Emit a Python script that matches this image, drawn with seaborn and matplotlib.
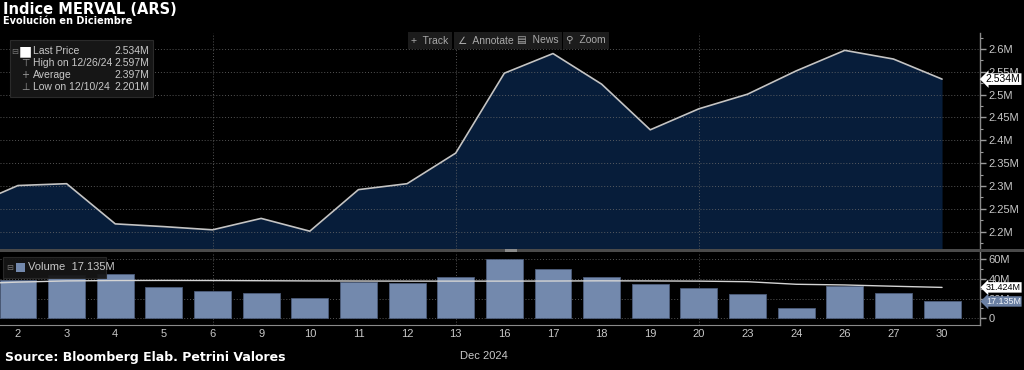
import numpy as np
import pandas as pd
import matplotlib
matplotlib.use('Agg')
import matplotlib.pyplot as plt
import matplotlib.transforms as mtrans
from matplotlib.patches import Rectangle
from matplotlib.ticker import FixedLocator, MultipleLocator, FuncFormatter
import seaborn as sns

# ---------------- data ----------------
days = ['29', '2', '3', '4', '5', '6', '9', '10', '11', '12', '13',
        '16', '17', '18', '19', '20', '23', '24', '26', '27', '30']
price = [2.255, 2.301, 2.305, 2.217, 2.211, 2.204, 2.229, 2.201, 2.292, 2.305, 2.372,
         2.547, 2.590, 2.523, 2.423, 2.469, 2.501, 2.552, 2.597, 2.578, 2.534]   # millions
volume = [38.0, 38.5, 44.0, 45.0, 32.1, 27.8, 26.0, 20.6, 36.6, 35.6, 42.3,
          60.3, 50.4, 42.0, 34.6, 30.5, 24.7, 10.2, 32.5, 25.4, 17.135]        # millions
vol_avg = [35.0, 36.8, 38.0, 38.4, 38.5, 38.4, 38.2, 38.0, 37.9, 37.8, 37.8,
           37.8, 37.9, 38.1, 38.0, 37.8, 37.2, 34.6, 33.9, 32.6, 31.424]
grid_days = ['6', '13', '20']
legend_names = ['Last Price', 'High on 12/26/24', 'Average', 'Low on 12/10/24']
legend_values = ['2.534M', '2.597M', '2.397M', '2.201M']

df = pd.DataFrame({'day': days, 'price': price, 'volume': volume, 'vol_avg': vol_avg})
df['pos'] = np.arange(len(df))

# ---------------- style ----------------
sns.set_style('dark')
plt.rcParams['font.family'] = ['DejaVu Sans']
NARROW = ['Liberation Sans', 'DejaVu Sans']
BG = 'black'
NAVY = '#071d3a'
TXT = '#c8c8c8'
GRID = '#6a6a6a'
BAR = '#7389ad'

W, H = 1024, 370
fx = lambda px: px / W
fy = lambda py: 1 - py / H

fig = plt.figure(figsize=(10.24, 3.70), dpi=100, facecolor=BG)
ax1 = fig.add_axes([0, fy(249), fx(980), fy(33) - fy(249)], facecolor=BG)
ax2 = fig.add_axes([0, fy(325), fx(980), fy(252) - fy(325)], facecolor=BG)

xlim = (0.63, 20.78)

# ---------------- price panel ----------------
ax1.fill_between(df['pos'], df['price'], 2.0, color=NAVY, lw=0, zorder=1)
sns.lineplot(data=df, x='pos', y='price', ax=ax1, color='#c4c4c4', lw=1.2, zorder=3)
ax1.set_xlim(*xlim)
ax1.set_ylim(2.162, 2.635)
ax1.set_axisbelow(False)

# ---------------- volume panel ----------------
sns.barplot(data=df, x='pos', y='volume', ax=ax2, native_scale=True, width=0.76,
            color=BAR, saturation=1, edgecolor='#4d5d7a', linewidth=0.6,
            errorbar=None, zorder=2)
sns.lineplot(data=df, x='pos', y='vol_avg', ax=ax2, color='#d4d4d4', lw=1.0, zorder=3)
ax2.set_xlim(*xlim)
ax2.set_ylim(-6.8, 67.4)
ax2.set_axisbelow(True)

for ax in (ax1, ax2):
    ax.set_xlabel('')
    ax.set_ylabel('')
    for s in ('left', 'top', 'bottom'):
        ax.spines[s].set_visible(False)
    ax.spines['right'].set_visible(True)
    ax.spines['right'].set_color('#8a8a8a')
    ax.spines['right'].set_linewidth(1)
    ax.yaxis.tick_right()
    ax.tick_params(axis='y', which='both', direction='out', colors='#9a9a9a',
                   labelcolor=TXT, labelsize=8, pad=2)
    ax.tick_params(axis='y', which='major', length=4, width=1)
    ax.tick_params(axis='y', which='minor', length=2.5, width=0.8)
    ax.grid(False)
    ax.yaxis.grid(True, which='major', color=GRID, ls=(0, (1, 2)), lw=0.7, alpha=0.8)
    for d in grid_days:
        ax.axvline(df.loc[df['day'] == d, 'pos'].iloc[0], color=GRID, ls=(0, (1, 2)),
                   lw=0.7, alpha=0.8, zorder=2 if ax is ax1 else 0.5)

ax1.yaxis.set_major_locator(FixedLocator([2.2, 2.25, 2.3, 2.35, 2.4, 2.45, 2.5, 2.55, 2.6]))
ax1.yaxis.set_minor_locator(MultipleLocator(0.025))
ax1.yaxis.set_major_formatter(FuncFormatter(lambda v, p: f'{v:g}M'))
ax1.set_xticks([])

ax2.yaxis.set_major_locator(FixedLocator([0, 20, 40, 60]))
ax2.yaxis.set_minor_locator(MultipleLocator(10))
ax2.yaxis.set_major_formatter(FuncFormatter(lambda v, p: '0' if v == 0 else f'{v:g}M'))
ax2.spines['bottom'].set_visible(True)
ax2.spines['bottom'].set_color('#8a8a8a')
ax2.set_xticks(df['pos'].iloc[1:])
ax2.set_xticklabels(df['day'].iloc[1:])
ax2.tick_params(axis='x', length=0, labelcolor=TXT, labelsize=8, pad=3)
for ax in (ax1, ax2):
    for lab in ax.get_yticklabels() + ax.get_xticklabels():
        lab.set_family(NARROW)

pos16 = df.loc[df['day'] == '16', 'pos'].iloc[0]
ax2.text(pos16 + 0.08, -0.36, 'Dec 2024',
         transform=mtrans.blended_transform_factory(ax2.transData, ax2.transAxes),
         ha='right', va='top', color=TXT, fontsize=8, family=NARROW)

# ---------------- right-hand value flags ----------------
tr1 = mtrans.blended_transform_factory(ax1.transAxes, ax1.transData)
tr2 = mtrans.blended_transform_factory(ax2.transAxes, ax2.transData)
flags = [(ax1, tr1, price[-1], 'black', 'white', 7.5),
         (ax2, tr2, vol_avg[-1], 'black', 'white', 6.5),
         (ax2, tr2, volume[-1], '#eef2f8', '#6b80a3', 6.5)]
for ax, tr, v, tc, fc, fs in flags:
    ax.text(1.006, v, f'{v:.3f}M', transform=tr, ha='left', va='center',
            fontsize=fs, color=tc, family=NARROW, zorder=10, clip_on=False,
            bbox=dict(boxstyle='larrow,pad=0.08', fc=fc, ec='none'))

# ---------------- panel separator ----------------
fig.add_artist(Rectangle((0, fy(251.5)), 1, 2.5 / H, transform=fig.transFigure,
                         fc='#4a4a4a', ec='none'))
fig.add_artist(Rectangle((fx(505), fy(251.5)), fx(12), 2.5 / H, transform=fig.transFigure,
                         fc='#8a8a8a', ec='none'))

# ---------------- titles ----------------
fig.text(fx(3), fy(9), 'Indice MERVAL (ARS)', color='white', fontsize=10.5,
         fontweight='bold', ha='left', va='center')
fig.text(fx(3), fy(21), 'Evolución en Diciembre', color='white', fontsize=7,
         fontweight='bold', ha='left', va='center')
fig.text(fx(5), fy(358), 'Source: Bloomberg Elab. Petrini Valores', color='white',
         fontsize=9, fontweight='bold', ha='left', va='center')

# ---------------- toolbar ----------------
for lbl, xc in [('+  Track', 430), ('∠  Annotate', 486), ('▤  News', 538), ('⚲  Zoom', 586)]:
    fig.text(fx(xc), fy(40.5), lbl, color='#a8a8a8', fontsize=7.5, family=NARROW,
             ha='center', va='center', zorder=20,
             bbox=dict(boxstyle='square,pad=0.35', fc='#1c1c1c', ec='none'))

# ---------------- price legend ----------------
fig.add_artist(Rectangle((fx(10), fy(97)), fx(143), 57 / H, transform=fig.transFigure,
                         fc='#161616', ec='#2a2a2a', lw=0.8, zorder=15))
icons = [('■', 'white', 10), ('⊤', '#9a9a9a', 7), ('+', '#9a9a9a', 7), ('⊥', '#9a9a9a', 7)]
for i, ((icon, icol, isz), name, val) in enumerate(zip(icons, legend_names, legend_values)):
    yy = fy(51 + 12 * i)
    fig.text(fx(25), yy, icon, color=icol, fontsize=isz, ha='center', va='center', zorder=16)
    fig.text(fx(33), yy, name, color=TXT, fontsize=7.5, family=NARROW,
             ha='left', va='center', zorder=16)
    fig.text(fx(149), yy, val, color=TXT, fontsize=7.5, family=NARROW,
             ha='right', va='center', zorder=16)
fig.text(fx(15), fy(51), '⊟', color='#777777', fontsize=6, ha='center', va='center', zorder=16)

# ---------------- volume legend ----------------
fig.add_artist(Rectangle((fx(3), fy(278)), fx(103), 21 / H, transform=fig.transFigure,
                         fc='#161616', ec='#2a2a2a', lw=0.8, zorder=15, alpha=0.95))
fig.text(fx(10), fy(267.5), '⊟', color='#777777', fontsize=6, ha='center', va='center', zorder=16)
fig.add_artist(Rectangle((fx(16), fy(272)), fx(9), 9 / H, transform=fig.transFigure,
                         fc=BAR, ec='none', zorder=16))
fig.text(fx(28), fy(267.5), f'Volume  {volume[-1]:.3f}M', color=TXT, fontsize=8,
         family=NARROW, ha='left', va='center', zorder=16)

fig.savefig('out.png', dpi=100, facecolor=BG)
